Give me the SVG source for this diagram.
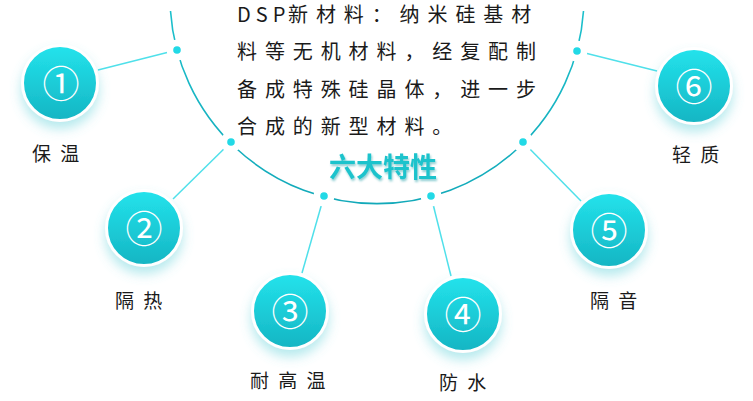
<svg xmlns="http://www.w3.org/2000/svg" width="753" height="401" viewBox="0 0 753 401">
<style>
.arc{fill:none;stroke:url(#arcG);stroke-width:1.6}
.con{stroke:#4fe0ea;stroke-width:1.5;fill:none}
.gap{fill:#fff}
.dot{fill:#22d9e6}
.node{fill:url(#nodeG);stroke:#fff;stroke-width:3;filter:url(#sh)}
.num{font-family:"Noto Sans CJK SC","DejaVu Sans",sans-serif;font-size:37px;fill:#fff;text-anchor:middle}
.lab{font-family:"Noto Sans CJK SC",sans-serif;font-size:19px;letter-spacing:9.3px;fill:#1a1a1a}
.body{font-family:"Noto Sans CJK SC",sans-serif;font-size:20px;letter-spacing:7.9px;fill:#1a1a1a}
.title{font-family:"Noto Sans CJK SC",sans-serif;font-size:27px;font-weight:bold;fill:#1dc3cc}
</style>
<defs>
<linearGradient id="nodeG" x1="0" y1="0" x2="0" y2="1">
<stop offset="0" stop-color="#23e3ec"/>
<stop offset="1" stop-color="#15b5c3"/>
</linearGradient>
<linearGradient id="arcG" x1="0" y1="0" x2="0" y2="1">
<stop offset="0" stop-color="#1cc0cc"/>
<stop offset="1" stop-color="#12a9b9"/>
</linearGradient>
<filter id="sh" x="-50%" y="-50%" width="200%" height="200%">
<feDropShadow dx="0" dy="7" stdDeviation="6" flood-color="#5ccfd8" flood-opacity="0.45"/>
</filter>
<filter id="tsh" x="-20%" y="-20%" width="140%" height="160%">
<feDropShadow dx="1" dy="2" stdDeviation="1" flood-color="#0e8f9a" flood-opacity="0.45"/>
</filter>
</defs>
<g id="connectors">
<path class="arc" d="M170.5 11 A207 207 0 0 0 583.5 11"/>
<line class="con" x1="177" y1="50" x2="98" y2="70"/>
<line class="con" x1="231" y1="142" x2="173" y2="199"/>
<line class="con" x1="324" y1="196" x2="302" y2="273"/>
<line class="con" x1="431" y1="196" x2="451" y2="276"/>
<line class="con" x1="523" y1="142" x2="581" y2="201"/>
<line class="con" x1="577" y1="51" x2="657" y2="71"/>
<circle class="gap" cx="177" cy="50" r="10.5"/>
<circle class="gap" cx="231" cy="142" r="10.5"/>
<circle class="gap" cx="324" cy="196" r="10.5"/>
<circle class="gap" cx="431" cy="196" r="10.5"/>
<circle class="gap" cx="523" cy="142" r="10.5"/>
<circle class="gap" cx="577" cy="51" r="10.5"/>
<circle class="dot" cx="177" cy="50" r="3.8"/>
<circle class="dot" cx="231" cy="142" r="3.8"/>
<circle class="dot" cx="324" cy="196" r="3.8"/>
<circle class="dot" cx="431" cy="196" r="3.8"/>
<circle class="dot" cx="523" cy="142" r="3.8"/>
<circle class="dot" cx="577" cy="51" r="3.8"/>
</g>
<g id="desc">
<text class="body" y="22"><tspan x="237" style="letter-spacing:5px">DSP</tspan><tspan x="288">新材料：纳米硅基材</tspan></text>
<text class="body" x="237" y="59">料等无机材料，经复配制</text>
<text class="body" x="237" y="96.5">备成特殊硅晶体，进一步</text>
<text class="body" x="237" y="134">合成的新型材料。</text>
</g>
<g id="title"><text class="title" x="329" y="177" filter="url(#tsh)">六大特性</text></g>
<g id="n1"><circle class="node" cx="60" cy="83" r="37.5"/><text class="num" x="61" y="97.5">①</text><text class="lab" x="32" y="161">保温</text></g>
<g id="n2"><circle class="node" cx="144" cy="228" r="37.5"/><text class="num" x="144" y="242.5">②</text><text class="lab" x="115" y="308">隔热</text></g>
<g id="n3"><circle class="node" cx="290" cy="311" r="37.5"/><text class="num" x="290" y="325.5">③</text><text class="lab" x="250" y="388">耐高温</text></g>
<g id="n4"><circle class="node" cx="463" cy="314" r="37.5"/><text class="num" x="463" y="328.5">④</text><text class="lab" x="439" y="390">防水</text></g>
<g id="n5"><circle class="node" cx="609" cy="230" r="37.5"/><text class="num" x="609" y="244.5">⑤</text><text class="lab" x="590" y="308">隔音</text></g>
<g id="n6"><circle class="node" cx="694" cy="86" r="37.5"/><text class="num" x="694" y="100.5">⑥</text><text class="lab" x="672" y="162">轻质</text></g>
</svg>
